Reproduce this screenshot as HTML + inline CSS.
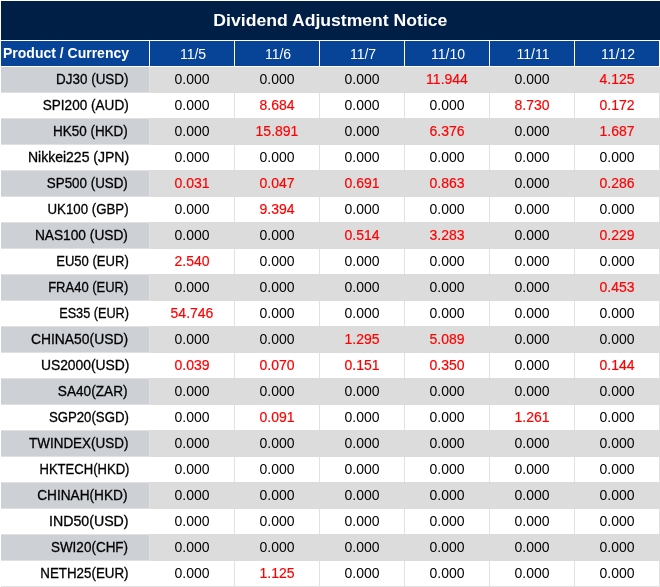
<!DOCTYPE html><html><head><meta charset="utf-8"><title>Dividend Adjustment Notice</title><style>
*{margin:0;padding:0;box-sizing:border-box}
html,body{width:660px;height:587px;overflow:hidden;background:#fff}
body{position:relative;font-family:"Liberation Sans","Noto Sans CJK SC",sans-serif}
.title{position:absolute;left:1px;top:1px;width:659px;height:39px;background:#001f46;color:#fff;
 font-weight:bold;font-size:16px;text-align:center;line-height:39px}
.title span{display:inline-block;transform:scaleX(1.1);position:relative;top:0px}
.hd{position:absolute;top:41px;height:25px;background:#074498;color:#fff;font-size:14px;line-height:27px;text-align:center;padding-left:2px}
.hd.p{font-weight:bold;text-align:left;padding-left:2px;font-size:14px;line-height:25px}
.grid{position:absolute;left:1px;top:67px;width:659px;height:520px;background:#e1e1e1}
.c{position:absolute;height:25px;line-height:25px;font-size:14px;text-align:center;color:#000}
.g{background:#dcdcdc}
.band{position:absolute;left:150px;width:510px;background:#dcdcdc}
.g.f{background:#cdd1d6}
.w{background:#fff}
.f{text-align:right;padding-right:21px;color:#000;-webkit-text-stroke:0.3px #000}
.f span{display:inline-block;transform-origin:100% 50%}
.w.f{width:149px!important}
.r{color:#ff0000;-webkit-text-stroke:0.18px #ff0000}
.b{color:#ff0000;-webkit-text-stroke:0.22px #ff0000}
</style></head><body>
<div class="title"><span>Dividend Adjustment Notice</span></div>
<div class="hd p" style="left:1px;width:148px">Product / Currency</div>
<div class="hd" style="left:150px;width:84px">11/5</div>
<div class="hd" style="left:235px;width:84px">11/6</div>
<div class="hd" style="left:320px;width:84px">11/7</div>
<div class="hd" style="left:405px;width:84px">11/10</div>
<div class="hd" style="left:490px;width:84px">11/11</div>
<div class="hd" style="left:575px;width:84px">11/12</div>
<div class="grid"></div>
<div class="band" style="top:67px;height:26px"></div>
<div class="c g f" style="left:1px;top:67px;width:148px"><span style="transform:scaleX(0.959)">DJ30 (USD)</span></div>
<div class="c g" style="left:150px;top:67px;width:84px">0.000</div>
<div class="c g" style="left:235px;top:67px;width:84px">0.000</div>
<div class="c g" style="left:320px;top:67px;width:84px">0.000</div>
<div class="c g r" style="left:405px;top:67px;width:84px">11.944</div>
<div class="c g" style="left:490px;top:67px;width:84px">0.000</div>
<div class="c g r" style="left:575px;top:67px;width:84px">4.125</div>
<div class="c w f" style="left:1px;top:93px;width:148px"><span style="transform:scaleX(0.969)">SPI200 (AUD)</span></div>
<div class="c w" style="left:150px;top:93px;width:84px">0.000</div>
<div class="c w r" style="left:235px;top:93px;width:84px">8.684</div>
<div class="c w" style="left:320px;top:93px;width:84px">0.000</div>
<div class="c w" style="left:405px;top:93px;width:84px">0.000</div>
<div class="c w r" style="left:490px;top:93px;width:84px">8.730</div>
<div class="c w r" style="left:575px;top:93px;width:84px">0.172</div>
<div class="band" style="top:118px;height:27px"></div>
<div class="c g f" style="left:1px;top:119px;width:148px"><span style="transform:scaleX(0.961)">HK50 (HKD)</span></div>
<div class="c g" style="left:150px;top:119px;width:84px">0.000</div>
<div class="c g r" style="left:235px;top:119px;width:84px">15.891</div>
<div class="c g" style="left:320px;top:119px;width:84px">0.000</div>
<div class="c g r" style="left:405px;top:119px;width:84px">6.376</div>
<div class="c g" style="left:490px;top:119px;width:84px">0.000</div>
<div class="c g r" style="left:575px;top:119px;width:84px">1.687</div>
<div class="c w f" style="left:1px;top:145px;width:148px"><span style="transform:scaleX(1.001)">Nikkei225 (JPN)</span></div>
<div class="c w" style="left:150px;top:145px;width:84px">0.000</div>
<div class="c w" style="left:235px;top:145px;width:84px">0.000</div>
<div class="c w" style="left:320px;top:145px;width:84px">0.000</div>
<div class="c w" style="left:405px;top:145px;width:84px">0.000</div>
<div class="c w" style="left:490px;top:145px;width:84px">0.000</div>
<div class="c w" style="left:575px;top:145px;width:84px">0.000</div>
<div class="band" style="top:170px;height:27px"></div>
<div class="c g f" style="left:1px;top:171px;width:148px"><span style="transform:scaleX(0.955)">SP500 (USD)</span></div>
<div class="c g r" style="left:150px;top:171px;width:84px">0.031</div>
<div class="c g r" style="left:235px;top:171px;width:84px">0.047</div>
<div class="c g r" style="left:320px;top:171px;width:84px">0.691</div>
<div class="c g r" style="left:405px;top:171px;width:84px">0.863</div>
<div class="c g" style="left:490px;top:171px;width:84px">0.000</div>
<div class="c g r" style="left:575px;top:171px;width:84px">0.286</div>
<div class="c w f" style="left:1px;top:197px;width:148px"><span style="transform:scaleX(0.947)">UK100 (GBP)</span></div>
<div class="c w" style="left:150px;top:197px;width:84px">0.000</div>
<div class="c w r" style="left:235px;top:197px;width:84px">9.394</div>
<div class="c w" style="left:320px;top:197px;width:84px">0.000</div>
<div class="c w" style="left:405px;top:197px;width:84px">0.000</div>
<div class="c w" style="left:490px;top:197px;width:84px">0.000</div>
<div class="c w" style="left:575px;top:197px;width:84px">0.000</div>
<div class="band" style="top:222px;height:27px"></div>
<div class="c g f" style="left:1px;top:223px;width:148px"><span style="transform:scaleX(0.980)">NAS100 (USD)</span></div>
<div class="c g" style="left:150px;top:223px;width:84px">0.000</div>
<div class="c g" style="left:235px;top:223px;width:84px">0.000</div>
<div class="c g r" style="left:320px;top:223px;width:84px">0.514</div>
<div class="c g r" style="left:405px;top:223px;width:84px">3.283</div>
<div class="c g" style="left:490px;top:223px;width:84px">0.000</div>
<div class="c g r" style="left:575px;top:223px;width:84px">0.229</div>
<div class="c w f" style="left:1px;top:249px;width:148px"><span style="transform:scaleX(0.933)">EU50 (EUR)</span></div>
<div class="c w r" style="left:150px;top:249px;width:84px">2.540</div>
<div class="c w" style="left:235px;top:249px;width:84px">0.000</div>
<div class="c w" style="left:320px;top:249px;width:84px">0.000</div>
<div class="c w" style="left:405px;top:249px;width:84px">0.000</div>
<div class="c w" style="left:490px;top:249px;width:84px">0.000</div>
<div class="c w" style="left:575px;top:249px;width:84px">0.000</div>
<div class="band" style="top:274px;height:27px"></div>
<div class="c g f" style="left:1px;top:275px;width:148px"><span style="transform:scaleX(0.929)">FRA40 (EUR)</span></div>
<div class="c g" style="left:150px;top:275px;width:84px">0.000</div>
<div class="c g" style="left:235px;top:275px;width:84px">0.000</div>
<div class="c g" style="left:320px;top:275px;width:84px">0.000</div>
<div class="c g" style="left:405px;top:275px;width:84px">0.000</div>
<div class="c g" style="left:490px;top:275px;width:84px">0.000</div>
<div class="c g r" style="left:575px;top:275px;width:84px">0.453</div>
<div class="c w f" style="left:1px;top:301px;width:148px"><span style="transform:scaleX(0.907)">ES35 (EUR)</span></div>
<div class="c w r" style="left:150px;top:301px;width:84px">54.746</div>
<div class="c w" style="left:235px;top:301px;width:84px">0.000</div>
<div class="c w" style="left:320px;top:301px;width:84px">0.000</div>
<div class="c w" style="left:405px;top:301px;width:84px">0.000</div>
<div class="c w" style="left:490px;top:301px;width:84px">0.000</div>
<div class="c w" style="left:575px;top:301px;width:84px">0.000</div>
<div class="band" style="top:326px;height:27px"></div>
<div class="c g f" style="left:1px;top:327px;width:148px"><span style="transform:scaleX(0.990)">CHINA50(USD)</span></div>
<div class="c g" style="left:150px;top:327px;width:84px">0.000</div>
<div class="c g" style="left:235px;top:327px;width:84px">0.000</div>
<div class="c g r" style="left:320px;top:327px;width:84px">1.295</div>
<div class="c g r" style="left:405px;top:327px;width:84px">5.089</div>
<div class="c g" style="left:490px;top:327px;width:84px">0.000</div>
<div class="c g" style="left:575px;top:327px;width:84px">0.000</div>
<div class="c w f" style="left:1px;top:353px;width:148px"><span style="transform:scaleX(0.990)">US2000(USD)</span></div>
<div class="c w b" style="left:150px;top:353px;width:84px">0.039</div>
<div class="c w b" style="left:235px;top:353px;width:84px">0.070</div>
<div class="c w b" style="left:320px;top:353px;width:84px">0.151</div>
<div class="c w b" style="left:405px;top:353px;width:84px">0.350</div>
<div class="c w" style="left:490px;top:353px;width:84px">0.000</div>
<div class="c w b" style="left:575px;top:353px;width:84px">0.144</div>
<div class="band" style="top:378px;height:27px"></div>
<div class="c g f" style="left:1px;top:379px;width:148px"><span style="transform:scaleX(0.975)">SA40(ZAR)</span></div>
<div class="c g" style="left:150px;top:379px;width:84px">0.000</div>
<div class="c g" style="left:235px;top:379px;width:84px">0.000</div>
<div class="c g" style="left:320px;top:379px;width:84px">0.000</div>
<div class="c g" style="left:405px;top:379px;width:84px">0.000</div>
<div class="c g" style="left:490px;top:379px;width:84px">0.000</div>
<div class="c g" style="left:575px;top:379px;width:84px">0.000</div>
<div class="c w f" style="left:1px;top:405px;width:148px"><span style="transform:scaleX(0.942)">SGP20(SGD)</span></div>
<div class="c w" style="left:150px;top:405px;width:84px">0.000</div>
<div class="c w r" style="left:235px;top:405px;width:84px">0.091</div>
<div class="c w" style="left:320px;top:405px;width:84px">0.000</div>
<div class="c w" style="left:405px;top:405px;width:84px">0.000</div>
<div class="c w r" style="left:490px;top:405px;width:84px">1.261</div>
<div class="c w" style="left:575px;top:405px;width:84px">0.000</div>
<div class="band" style="top:430px;height:27px"></div>
<div class="c g f" style="left:1px;top:431px;width:148px"><span style="transform:scaleX(0.961)">TWINDEX(USD)</span></div>
<div class="c g" style="left:150px;top:431px;width:84px">0.000</div>
<div class="c g" style="left:235px;top:431px;width:84px">0.000</div>
<div class="c g" style="left:320px;top:431px;width:84px">0.000</div>
<div class="c g" style="left:405px;top:431px;width:84px">0.000</div>
<div class="c g" style="left:490px;top:431px;width:84px">0.000</div>
<div class="c g" style="left:575px;top:431px;width:84px">0.000</div>
<div class="c w f" style="left:1px;top:457px;width:148px"><span style="transform:scaleX(0.933)">HKTECH(HKD)</span></div>
<div class="c w" style="left:150px;top:457px;width:84px">0.000</div>
<div class="c w" style="left:235px;top:457px;width:84px">0.000</div>
<div class="c w" style="left:320px;top:457px;width:84px">0.000</div>
<div class="c w" style="left:405px;top:457px;width:84px">0.000</div>
<div class="c w" style="left:490px;top:457px;width:84px">0.000</div>
<div class="c w" style="left:575px;top:457px;width:84px">0.000</div>
<div class="band" style="top:482px;height:27px"></div>
<div class="c g f" style="left:1px;top:483px;width:148px"><span style="transform:scaleX(0.977)">CHINAH(HKD)</span></div>
<div class="c g" style="left:150px;top:483px;width:84px">0.000</div>
<div class="c g" style="left:235px;top:483px;width:84px">0.000</div>
<div class="c g" style="left:320px;top:483px;width:84px">0.000</div>
<div class="c g" style="left:405px;top:483px;width:84px">0.000</div>
<div class="c g" style="left:490px;top:483px;width:84px">0.000</div>
<div class="c g" style="left:575px;top:483px;width:84px">0.000</div>
<div class="c w f" style="left:1px;top:509px;width:148px"><span style="transform:scaleX(1.013)">IND50(USD)</span></div>
<div class="c w" style="left:150px;top:509px;width:84px">0.000</div>
<div class="c w" style="left:235px;top:509px;width:84px">0.000</div>
<div class="c w" style="left:320px;top:509px;width:84px">0.000</div>
<div class="c w" style="left:405px;top:509px;width:84px">0.000</div>
<div class="c w" style="left:490px;top:509px;width:84px">0.000</div>
<div class="c w" style="left:575px;top:509px;width:84px">0.000</div>
<div class="band" style="top:534px;height:27px"></div>
<div class="c g f" style="left:1px;top:535px;width:148px"><span style="transform:scaleX(0.964)">SWI20(CHF)</span></div>
<div class="c g" style="left:150px;top:535px;width:84px">0.000</div>
<div class="c g" style="left:235px;top:535px;width:84px">0.000</div>
<div class="c g" style="left:320px;top:535px;width:84px">0.000</div>
<div class="c g" style="left:405px;top:535px;width:84px">0.000</div>
<div class="c g" style="left:490px;top:535px;width:84px">0.000</div>
<div class="c g" style="left:575px;top:535px;width:84px">0.000</div>
<div class="c w f" style="left:1px;top:561px;width:148px"><span style="transform:scaleX(0.954)">NETH25(EUR)</span></div>
<div class="c w" style="left:150px;top:561px;width:84px">0.000</div>
<div class="c w r" style="left:235px;top:561px;width:84px">1.125</div>
<div class="c w" style="left:320px;top:561px;width:84px">0.000</div>
<div class="c w" style="left:405px;top:561px;width:84px">0.000</div>
<div class="c w" style="left:490px;top:561px;width:84px">0.000</div>
<div class="c w" style="left:575px;top:561px;width:84px">0.000</div>
</body></html>
